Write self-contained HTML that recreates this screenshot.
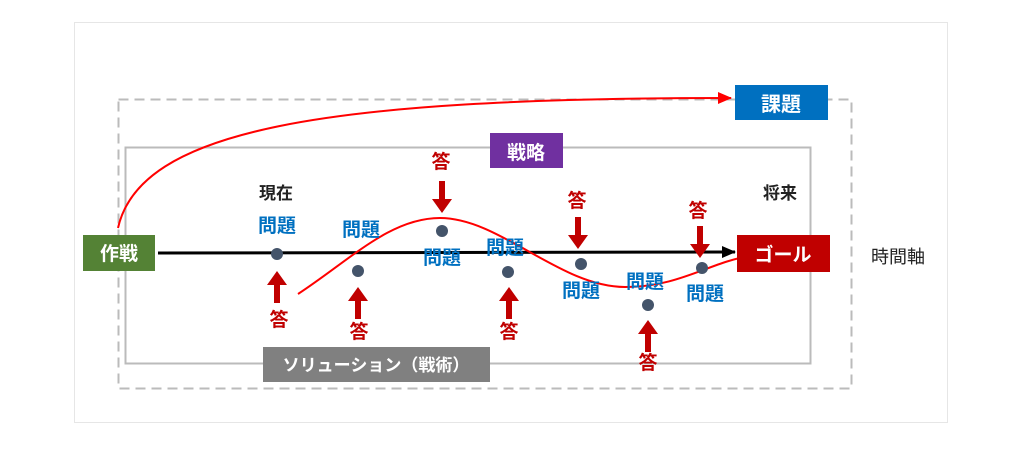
<!DOCTYPE html>
<html><head><meta charset="utf-8"><style>
body{margin:0;background:#fff;width:1023px;height:445px;overflow:hidden;font-family:"Liberation Sans","Noto Sans CJK JP",sans-serif;}
</style></head><body>
<svg width="1023" height="445" xmlns="http://www.w3.org/2000/svg" font-family="Liberation Sans, Noto Sans CJK JP, sans-serif" font-weight="bold">
<defs>
<marker id="ra" markerWidth="8" markerHeight="8" refX="7" refY="4" orient="auto" markerUnits="userSpaceOnUse"><path d="M0,0 L8,4 L0,8z" fill="#f00"/></marker>
<marker id="ra2" markerWidth="14" markerHeight="12" refX="13" refY="6" orient="auto" markerUnits="userSpaceOnUse"><path d="M0,0 L14,6 L0,12z" fill="#f00"/></marker>
<marker id="ba" markerWidth="14" markerHeight="12" refX="13" refY="6" orient="auto" markerUnits="userSpaceOnUse"><path d="M0,0 L14,6 L0,12z" fill="#000"/></marker>
<g id="up"><rect x="-3" y="8" width="6" height="20" fill="#c00000"/><path d="M-10,10 L0,-4 L10,10z" fill="#c00000"/></g>
<g id="dn"><rect x="-3" y="-28" width="6" height="20" fill="#c00000"/><path d="M-10,-10 L0,4 L10,-10z" fill="#c00000"/></g>
</defs>
<rect x="74.5" y="22.5" width="873" height="400" fill="none" stroke="#e6e6e6"/>
<rect x="118.5" y="99.5" width="733" height="289" fill="none" stroke="#bbb" stroke-width="2" stroke-dasharray="10,6"/>
<rect x="125.5" y="147.5" width="685" height="216" fill="none" stroke="#bbb" stroke-width="2"/>
<path d="M118,228 C140,130 320,98 731,98" fill="none" stroke="#f00" stroke-width="2" marker-end="url(#ra2)"/>
<line x1="158" y1="253" x2="735" y2="252" stroke="#000" stroke-width="3" marker-end="url(#ba)"/>
<path d="M298,294 C350,260 390,218 440,218 C500,218 560,287 625,287 C680,287 710,262 750,256" fill="none" stroke="#f00" stroke-width="2" marker-end="url(#ra)"/>
<rect x="735" y="85" width="93" height="35" fill="#0070c0"/>
<text x="781" y="111" font-size="20" fill="#fff" text-anchor="middle">課題</text>
<rect x="490" y="133" width="73" height="35" fill="#7030a0"/>
<text x="526" y="159" font-size="19" fill="#fff" text-anchor="middle">戦略</text>
<rect x="83" y="235" width="72" height="36" fill="#548235"/>
<text x="119" y="260" font-size="19" fill="#fff" text-anchor="middle">作戦</text>
<rect x="737" y="235" width="93" height="37" fill="#c00000"/>
<text x="783" y="261" font-size="19" fill="#fff" text-anchor="middle">ゴール</text>
<rect x="263" y="347" width="227" height="35" fill="#808080"/>
<text x="376" y="371" font-size="17" fill="#fff" text-anchor="middle">ソリューション（戦術）</text>
<text x="276" y="199" font-size="17" fill="#222" text-anchor="middle">現在</text>
<text x="780" y="199" font-size="17" fill="#222" text-anchor="middle">将来</text>
<text x="898" y="263" font-size="18" fill="#222" font-weight="normal" text-anchor="middle">時間軸</text>
<g fill="#44546a">
<circle cx="277" cy="254" r="6"/><circle cx="358" cy="271" r="6"/><circle cx="442" cy="231" r="6"/><circle cx="508" cy="272" r="6"/><circle cx="581" cy="264" r="6"/><circle cx="648" cy="305" r="6"/><circle cx="702" cy="268" r="6"/>
</g>
<g font-size="19" fill="#0070c0" text-anchor="middle">
<text x="277" y="232">問題</text><text x="361" y="236">問題</text><text x="442" y="264">問題</text><text x="505" y="254">問題</text><text x="581" y="297">問題</text><text x="645" y="288">問題</text><text x="705" y="300">問題</text>
</g>
<use href="#up" x="277" y="275"/><use href="#up" x="358" y="291"/><use href="#up" x="509" y="291"/><use href="#up" x="648" y="324"/>
<use href="#dn" x="442" y="209"/><use href="#dn" x="578" y="245"/><use href="#dn" x="700" y="254"/>
<g font-size="19" fill="#c00000" text-anchor="middle">
<text x="279" y="326">答</text><text x="359" y="338">答</text><text x="509" y="338">答</text><text x="648" y="369">答</text>
<text x="441" y="168">答</text><text x="577" y="207">答</text><text x="698" y="217">答</text>
</g>
</svg>
</body></html>
